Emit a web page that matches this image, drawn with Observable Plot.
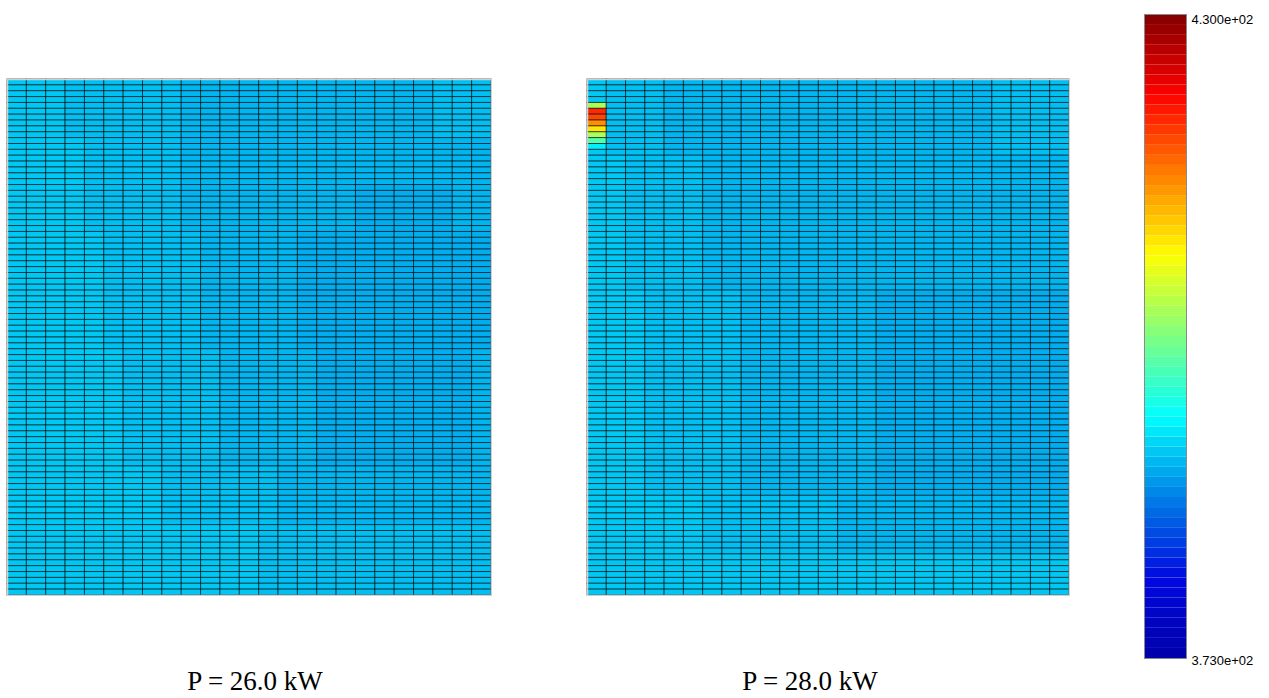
<!DOCTYPE html>
<html><head><meta charset="utf-8">
<script src="https://cdn.jsdelivr.net/npm/d3@7"></script>
<script src="https://cdn.jsdelivr.net/npm/@observablehq/plot@0.6"></script>
<style>
body{margin:0;background:#fff;width:1269px;height:698px;position:relative;overflow:hidden}
.abs{position:absolute}
.cap{font-family:"Liberation Serif","Times New Roman",serif;font-size:27px;line-height:27px;color:#000;white-space:nowrap;text-align:center;width:220px}
</style></head><body>
<div id="p1" class="abs" style="left:6px;top:78px"></div>
<div id="p2" class="abs" style="left:586px;top:78px"></div>
<div id="cb" class="abs" style="left:1143px;top:13px"></div>
<div id="c1" class="abs cap" style="left:145px;top:668px"></div>
<div id="c2" class="abs cap" style="left:700px;top:668px"></div>
<script>
// ---- data ----
const nCols = 25;
const nRows = 88;
// temperature level (K) for each digit used in the row strings
const levelValues = [389.8, 390.3, 390.8, 391.3];
// left panel (P = 26.0 kW): [row pattern, number of consecutive rows]
const leftRows = [
  ["3332222221111111111111222", 10],
  ["3333222221111111111111111", 8],
  ["3333222221111111110000011", 8],
  ["3333322222111110000000000", 20],
  ["3333332222211111000000001", 20],
  ["3333333322222211111111111", 10],
  ["3333333333333222222222222", 12]
];
// right panel (P = 28.0 kW)
const rightRows = [
  ["3222111111111111111112222", 13],
  ["3322221111111111111111111", 23],
  ["3332222211111110000000000", 35],
  ["3333332222222111111111111", 10],
  ["3333333333333333333333333", 7]
];
// hot spot in the first column of the right panel
const hotRows = [4, 5, 6, 7, 8, 9, 10, 11];
const hotValues = [403.8, 420.6, 419.0, 415.0, 410.0, 403.8, 399.0, 393.5];
// colour bar
const barMin = 373.0;
const barMax = 430.0;
const barLevels = 64;
const barLabels = ["4.300e+02", "3.730e+02"];
const captions = ["P = 26.0 kW", "P = 28.0 kW"];

// ---- build tables ----
function expand(spec) {
  const out = [];
  let r = 0;
  for (const [pat, n] of spec) {
    for (let k = 0; k < n; k++, r++) {
      for (let c = 0; c < nCols; c++) out.push({row: r, col: c, v: levelValues[+pat[c]]});
    }
  }
  return out;
}
const leftData = expand(leftRows);
const rightData = expand(rightRows);
hotRows.forEach((r, i) => { rightData[r * nCols].v = hotValues[i]; });

const jetDomain = d3.range(9).map(i => barMin + (barMax - barMin) * i / 8);
const jetRange = ["#0000a8", "#0008e0", "#0080e6", "#00ffff", "#80ff80", "#ffff00", "#ff8000", "#ff0000", "#800000"];
const colorScale = {type: "linear", domain: jetDomain, range: jetRange, interpolate: "rgb"};

function panel(data, w) {
  return Plot.plot({
    width: w + 2, height: 518, margin: 1,
    x: {type: "band", domain: d3.range(nCols), padding: 0, round: false, axis: null},
    y: {type: "band", domain: d3.range(nRows), padding: 0, round: false, axis: null},
    color: colorScale,
    marks: [
      Plot.cell(data, {x: "col", y: "row", fill: "v", stroke: "#000", strokeWidth: 1, strokeOpacity: 0.6}),
      Plot.frame({stroke: "#cfcfcf", strokeWidth: 1.5})
    ]
  });
}
document.getElementById("p1").appendChild(panel(leftData, 484));
document.getElementById("p2").appendChild(panel(rightData, 482));

const step = (barMax - barMin) / barLevels;
const bands = d3.range(barLevels).map(i => ({lo: barMin + i * step, hi: barMin + (i + 1) * step, mid: barMin + (i + 0.5) * step}));
const cb = Plot.plot({
  width: 126, height: 657,
  marginTop: 1, marginBottom: 12, marginLeft: 1, marginRight: 83,
  x: {domain: [0, 1], axis: null},
  y: {domain: [barMin, barMax], axis: null},
  color: colorScale,
  style: {fontFamily: "'Liberation Sans', Arial, sans-serif", fontSize: "13px", overflow: "visible"},
  marks: [
    Plot.rect(bands, {x1: 0, x2: 1, y1: "lo", y2: "hi", fill: "mid"}),
    Plot.frame({stroke: "#8a8a8a", strokeWidth: 1}),
    Plot.text([barLabels[0]], {x: 1, y: barMax, text: d => d, textAnchor: "start", lineAnchor: "top", dx: 5, dy: 0, fontSize: 13, fill: "#000"}),
    Plot.text([barLabels[1]], {x: 1, y: barMin, text: d => d, textAnchor: "start", lineAnchor: "top", dx: 5, dy: -3, fontSize: 13, fill: "#000"})
  ]
});
document.getElementById("cb").appendChild(cb);
document.getElementById("c1").textContent = captions[0];
document.getElementById("c2").textContent = captions[1];
</script>
</body></html>
